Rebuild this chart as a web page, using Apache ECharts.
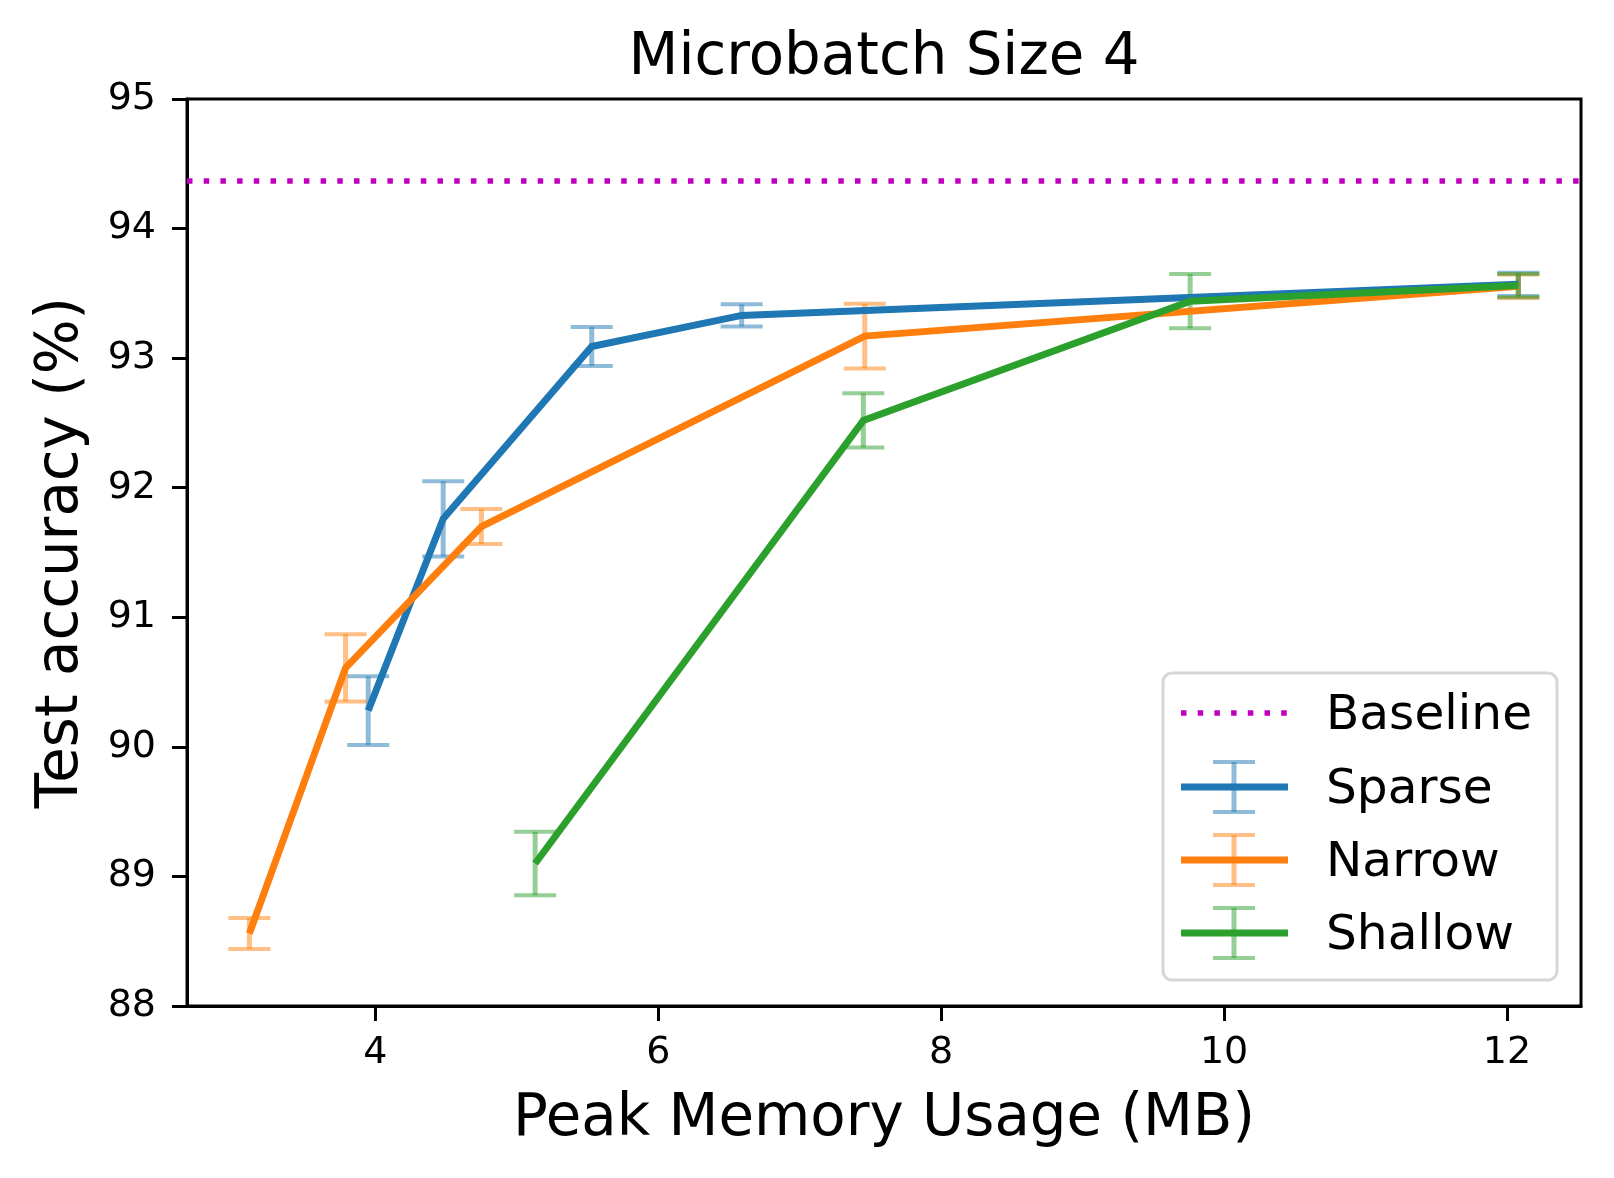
<!DOCTYPE html>
<html>
<head>
<meta charset="utf-8">
<title>Microbatch Size 4</title>
<script src="https://cdn.jsdelivr.net/npm/echarts@6/dist/echarts.min.js"></script>
<style>
  html, body { margin: 0; padding: 0; background: #fff; }
  #main { width: 1614px; height: 1178px; }
</style>
</head>
<body>
<div id="main"></div>
<script>
// values
var baselineAcc = 94.37;

var sparseX = [3.95, 4.48, 5.53, 6.59, 12.08];
var sparseY = [90.28, 91.76, 93.09, 93.33, 93.57];
var sparseErr = [0.265, 0.29, 0.15, 0.085, 0.09];

var narrowX = [3.11, 3.79, 4.75, 7.46, 12.08];
var narrowY = [88.56, 90.61, 91.70, 93.17, 93.555];
var narrowErr = [0.12, 0.26, 0.135, 0.25, 0.09];

var shallowX = [5.13, 7.45, 9.76, 12.08];
var shallowY = [89.10, 92.52, 93.44, 93.56];
var shallowErr = [0.245, 0.21, 0.21, 0.09];

var xTicks = [4, 6, 8, 10, 12];

var FONT = 'DejaVu Sans';
var colBlue = '#1f77b4', colOrange = '#ff7f0e', colGreen = '#2ca02c', colBase = '#bf00bf';

function pairs(xs, ys) {
  return xs.map(function (x, i) { return [x, ys[i]]; });
}
function triples(xs, ys, es) {
  return xs.map(function (x, i) { return [x, ys[i], es[i]]; });
}

// draws one errorbar (vertical line + two caps)
function errRender(color) {
  return function (params, api) {
    var x = api.value(0), y = api.value(1), e = api.value(2);
    var hi = api.coord([x, y + e]);
    var lo = api.coord([x, y - e]);
    var hw = 21;
    var st = { stroke: color, lineWidth: 5, opacity: 0.5 };
    var cs = { stroke: color, lineWidth: 4, opacity: 0.5 };
    return {
      type: 'group',
      children: [
        { type: 'line', shape: { x1: hi[0], y1: hi[1], x2: lo[0], y2: lo[1] }, style: st },
        { type: 'line', shape: { x1: hi[0] - hw, y1: hi[1], x2: hi[0] + hw, y2: hi[1] }, style: cs },
        { type: 'line', shape: { x1: lo[0] - hw, y1: lo[1], x2: lo[0] + hw, y2: lo[1] }, style: cs }
      ]
    };
  };
}

function lineSeries(name, data, color, z) {
  return {
    name: name,
    type: 'line',
    data: data,
    symbol: 'none',
    z: z,
    lineStyle: { color: color, width: 7, cap: 'butt', join: 'miter' },
    animation: false
  };
}

function errSeries(data, color) {
  return {
    type: 'custom',
    data: data,
    renderItem: errRender(color),
    z: 1,
    animation: false
  };
}

// legend drawn by hand so the errorbar glyph matches
var LX = 1163, LY = 673, LW = 394, LH = 307;
var rowY = [713, 787, 860, 933];
var iconL = 1181, iconR = 1288, iconC = 1234, textX = 1326;

function legendErrIcon(y, color) {
  return [
    { type: 'line', shape: { x1: iconC, y1: y - 25, x2: iconC, y2: y + 25 }, style: { stroke: color, lineWidth: 5, opacity: 0.5 }, z: 101 },
    { type: 'line', shape: { x1: iconC - 21, y1: y - 25, x2: iconC + 21, y2: y - 25 }, style: { stroke: color, lineWidth: 4, opacity: 0.5 }, z: 101 },
    { type: 'line', shape: { x1: iconC - 21, y1: y + 25, x2: iconC + 21, y2: y + 25 }, style: { stroke: color, lineWidth: 4, opacity: 0.5 }, z: 101 },
    { type: 'line', shape: { x1: iconL, y1: y, x2: iconR, y2: y }, style: { stroke: color, lineWidth: 7 }, z: 102 }
  ];
}
function legendText(y, txt) {
  return { type: 'text', x: textX, y: y + 3, z: 103,
    style: { text: txt, font: '48.6px "DejaVu Sans"', fill: '#000', verticalAlign: 'middle', align: 'left' } };
}

var legendGraphic = [
  { type: 'rect', shape: { x: LX, y: LY, width: LW, height: LH, r: 9 },
    style: { fill: 'rgba(255,255,255,0.8)', stroke: '#d6d6d6', lineWidth: 3 }, z: 100 },
  { type: 'line', shape: { x1: iconL, y1: rowY[0], x2: iconR, y2: rowY[0] },
    style: { stroke: colBase, lineWidth: 5.5, lineDash: [5.5, 11.2] }, z: 101 },
  legendText(rowY[0], 'Baseline'),
  legendText(rowY[1], 'Sparse'),
  legendText(rowY[2], 'Narrow'),
  legendText(rowY[3], 'Shallow')
].concat(legendErrIcon(rowY[1], colBlue))
 .concat(legendErrIcon(rowY[2], colOrange))
 .concat(legendErrIcon(rowY[3], colGreen));

var myChart = echarts.init(document.getElementById('main'));
var option = {
  backgroundColor: '#fff',
  animation: false,
  textStyle: { fontFamily: FONT },
  title: {
    text: 'Microbatch Size 4',
    left: 884,
    textAlign: 'center',
    top: 30,
    padding: 0,
    textStyle: { fontFamily: FONT, fontSize: 57.8, fontWeight: 'normal', color: '#000' }
  },
  grid: {
    left: 187,
    right: 33,
    top: 99,
    bottom: 172,
    show: true,
    borderColor: '#000',
    borderWidth: 3,
    backgroundColor: 'transparent'
  },
  xAxis: {
    type: 'value',
    min: 2.669,
    max: 12.523,
    name: 'Peak Memory Usage (MB)',
    nameLocation: 'middle',
    nameGap: 85,
    nameTextStyle: { fontFamily: FONT, fontSize: 57.8, color: '#000' },
    axisLine: { onZero: false, lineStyle: { color: '#000', width: 3 } },
    axisTick: { show: true, length: 15, lineStyle: { color: '#000', width: 3 }, customValues: xTicks },
    axisLabel: { fontFamily: FONT, fontSize: 38, color: '#000', margin: 28, customValues: xTicks },
    splitLine: { show: false }
  },
  yAxis: {
    type: 'value',
    min: 88,
    max: 95,
    interval: 1,
    name: 'Test accuracy (%)',
    nameLocation: 'middle',
    nameGap: 96,
    nameTextStyle: { fontFamily: FONT, fontSize: 57.8, color: '#000' },
    axisLine: { onZero: false, lineStyle: { color: '#000', width: 3 } },
    axisTick: { show: true, length: 15, lineStyle: { color: '#000', width: 3 } },
    axisLabel: { fontFamily: FONT, fontSize: 38, color: '#000', margin: 31 },
    splitLine: { show: false }
  },
  series: [
    {
      name: 'Baseline',
      type: 'line',
      data: [],
      symbol: 'none',
      markLine: {
        silent: true,
        symbol: 'none',
        label: { show: false },
        lineStyle: { color: colBase, width: 5.5, type: [5.5, 11.2], cap: 'butt' },
        data: [{ yAxis: baselineAcc }]
      }
    },
    errSeries(triples(sparseX, sparseY, sparseErr), colBlue),
    errSeries(triples(narrowX, narrowY, narrowErr), colOrange),
    errSeries(triples(shallowX, shallowY, shallowErr), colGreen),
    lineSeries('Sparse', pairs(sparseX, sparseY), colBlue, 3),
    lineSeries('Narrow', pairs(narrowX, narrowY), colOrange, 4),
    lineSeries('Shallow', pairs(shallowX, shallowY), colGreen, 5)
  ],
  graphic: legendGraphic
};
myChart.setOption(option);
</script>
</body>
</html>
